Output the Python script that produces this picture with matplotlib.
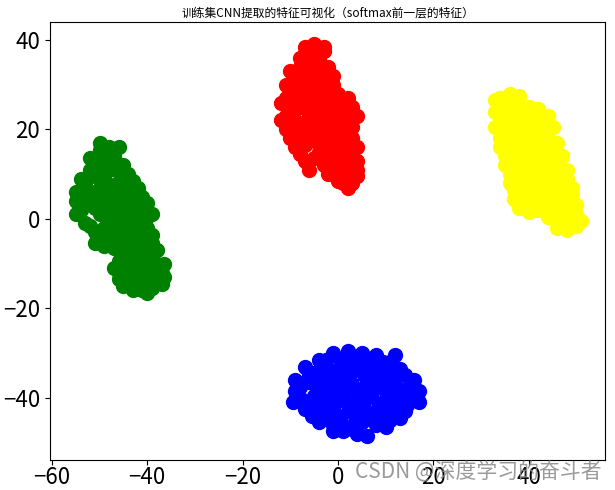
import matplotlib
matplotlib.use("Agg")
import matplotlib.pyplot as plt
import numpy as np

plt.rcParams['font.family'] = ['Noto Sans CJK SC', 'DejaVu Sans']
plt.rcParams['axes.unicode_minus'] = True

title = "训练集CNN提取的特征可视化（softmax前一层的特征）"
watermark = "CSDN @深度学习的奋斗者"
class_colors = ["red", "yellow", "green", "blue"]

# t-SNE 坐标
red_pts = [
    (-7, 37), (-5, 38), (-3, 37.5), (-4, 36), (-6, 35),
    (-10, 33), (-8, 34), (-6, 33), (-4, 33), (-2, 32), (-1, 30), (-9, 31),
    (-11, 30), (-7, 30), (-5, 30), (-3, 29), (0, 28), (-11, 27), (-9, 27),
    (-6, 27), (-4, 26), (-2, 26), (-1, 24),
    (2, 27), (3, 25), (4, 23), (2, 22), (3, 20.5),
    (-11, 23), (-9, 22), (-11, 20), (-8, 19), (-10, 18), (-7, 16.5), (-9, 16),
    (-6, 23), (-4, 22), (-2, 21), (-5, 19), (-3, 18), (0, 19), (-1, 17),
    (-4, 15), (-2, 14), (0, 15), (2, 16), (3, 14), (1, 12), (-1, 12), (-3, 12),
    (0, 10), (2, 10), (3, 8), (1, 8), (4, 11), (2, 7), (-2, 10),
    (-7, 13), (-6, 11),
    (-8, 36), (-6, 36.5), (-4, 34.5), (-2, 34), (-7, 32), (-5, 31.5), (-3, 31),
    (-1, 32), (-10, 29), (-8, 28.5), (-6, 29), (-4, 28), (-2, 28), (0, 26),
    (1, 24), (-8, 25), (-10, 25), (-6, 25), (-4, 24), (-2, 23.5), (0, 22),
    (1, 20), (-7, 21), (-9, 20), (-5, 21), (-3, 20), (-1, 19), (-6, 17.5),
    (-4, 17), (-2, 16), (1, 17), (3, 18), (4, 16), (-5, 13.5), (-3, 14),
    (-1, 14), (1, 14), (3, 12), (0, 8.5), (-1, 11), (2, 9), (4, 9.5), (4, 13),
    (-8, 14.5), (-12, 26), (-12, 22), (-5, 39), (-7, 38.5), (-3, 38.5),
]
yellow_pts = [
    (34, 27), (36, 27.5), (38, 26), (40, 25), (42, 24.5), (44, 23),
    (33, 24), (35, 23.5), (37, 22), (39, 22), (41, 22), (43, 21), (45, 20.5),
    (33, 20.5), (35, 20), (37, 19), (39, 19), (41, 18), (43, 18), (46, 17),
    (34, 16), (36, 16), (38, 15), (40, 15.5), (42, 14), (44, 15), (47, 14),
    (35, 12), (37, 12), (39, 11), (41, 11), (43, 11), (45, 11.5), (48, 11),
    (36, 8), (38, 8), (40, 8.5), (42, 7.5), (44, 7), (46, 8), (49, 7),
    (37, 4.5), (39, 4), (41, 4.5), (43, 3), (45, 4), (47, 3.5), (49, 4),
    (44, 0.5), (46, 0), (48, 0.5), (50, 1), (46, -2), (48, -2.5), (50, -1.5),
    (38, 2.5), (40, 1.5),
    (35, 25.5), (37, 24.5), (39, 24), (41, 23.5), (43, 22.5), (34, 22),
    (36, 21.5), (38, 20.5), (40, 20.5), (42, 20), (44, 19.5), (34, 18),
    (36, 18), (38, 17), (40, 17), (42, 16.5), (44, 17), (45, 15.5), (35, 14),
    (37, 14), (39, 13), (41, 13), (43, 13), (46, 12.5), (36, 10), (38, 10),
    (40, 10), (42, 9.5), (44, 9), (46, 10), (48, 9), (37, 6.5), (39, 6),
    (41, 6), (43, 5.5), (45, 6), (47, 6), (49, 5.5), (42, 2), (44, 2.5),
    (46, 2), (48, 2), (50, 3), (47, -1), (49, 0), (51, -0.5), (34, 25.5),
    (36, 28), (38, 27.5), (33, 26.5),
]
green_pts = [
    (-50, 15.5), (-48, 16), (-47, 14), (-50, 13), (-52, 11), (-54, 9),
    (-51, 9.5), (-48, 11), (-46, 10.5), (-44, 10), (-53, 6), (-55, 4),
    (-50, 7), (-47, 7.5), (-45, 7), (-42, 7), (-54, 2), (-52, 4), (-49, 4.5),
    (-46, 4), (-43, 4), (-40, 3.5), (-53, -1), (-50, 1), (-47, 1.5), (-44, 1),
    (-41, 0.5), (-51, -3), (-49, -2), (-47, -3), (-44, -2), (-42, -1.5),
    (-40, -2), (-51, -5.5), (-49, -6), (-45, -5), (-43, -4.5), (-41, -5),
    (-39, -5.5), (-45, -8), (-43, -7.5), (-41, -8), (-39, -8.5), (-38, -7),
    (-47, -11), (-45, -10.5), (-43, -11), (-41, -10.5), (-39, -11), (-37, -12),
    (-46, -13.5), (-44, -14), (-42, -13), (-40, -14), (-38, -13.5),
    (-41, -16), (-43, -16), (-39, -15.5), (-37, -14.5), (-46, -12),
    (-49, 14.5), (-51, 12), (-49, 12), (-47, 12.5), (-45, 12), (-53, 8),
    (-49, 9), (-45, 9), (-43, 8.5), (-55, 6), (-51, 6), (-48, 6), (-46, 5.5),
    (-44, 5.5), (-41, 5), (-55, 1), (-51, 2.5), (-48, 3), (-45, 2.5),
    (-42, 2.5), (-39, 1), (-52, -1.5), (-48, -0.5), (-46, -1), (-43, 0),
    (-40, 0.5), (-50, -4), (-48, -4), (-46, -3.5), (-43, -3), (-41, -3),
    (-39, -3.5), (-47, -6.5), (-44, -6.5), (-42, -6), (-40, -6.5),
    (-46, -9.5), (-44, -9.5), (-42, -9.5), (-40, -9.5), (-38, -10),
    (-44, -12), (-42, -11.5), (-40, -12), (-38, -12), (-45, -15), (-42, -15),
    (-40, -16.5), (-36.5, -13), (-36.5, -10), (-50, 17), (-46, 16), (-52, 13.5),
]
blue_pts = [
    (-1, -30), (2, -29.5), (5, -30), (8, -30.5), (-4, -31.5), (-7, -33),
    (11, -32), (13, -33.5),
    (-5, -34.5), (-2, -33.5), (1, -33), (4, -33), (7, -33.5), (10, -34.5), (14, -35),
    (-8, -37.5), (-6, -36.5), (-3, -36.5), (0, -36), (3, -37), (6, -36.5),
    (9, -37), (12, -37), (15, -37.5),
    (-8, -40), (-5, -39.5), (-2, -40), (1, -39.5), (4, -40), (7, -39.5),
    (10, -40), (13, -40), (16, -39.5),
    (-7, -42.5), (-4, -43), (-1, -42.5), (2, -43), (5, -42.5), (8, -43),
    (11, -42.5), (14, -43),
    (-4, -45.5), (-1, -46), (2, -46.5), (5, -45.5), (8, -46), (11, -45), (13, -44.5),
    (1, -47.5), (6, -48.5), (3, -47),
    (0.5, -31.5), (3.5, -31.5), (6.5, -31.5), (9.5, -32), (-2.5, -31.5),
    (12, -30.5), (-6, -35), (-3.5, -35), (-0.5, -34.5), (2.5, -34.5),
    (5.5, -35), (8.5, -35), (11.5, -35.5), (16, -36), (-9, -38.5),
    (-4.5, -38), (-1.5, -38), (1.5, -38), (4.5, -38.5), (7.5, -38),
    (10.5, -38.5), (13.5, -38.5), (17, -38.5), (-6.5, -41), (-3.5, -41.5),
    (-0.5, -41), (2.5, -41.5), (5.5, -41), (8.5, -41.5), (11.5, -41),
    (14.5, -41.5), (17, -41), (-5.5, -44), (-2.5, -44.5), (0.5, -44.5),
    (3.5, -44), (6.5, -44.5), (9.5, -44), (12.5, -43), (-1, -47.5), (4, -48),
    (10, -46.5), (-9, -36), (-9.5, -41),
]

fig = plt.figure(figsize=(6.15, 4.9), dpi=100)
ax = fig.add_axes([0.0813, 0.0612, 0.9024, 0.8938])

for pts, c in zip([red_pts, yellow_pts, green_pts, blue_pts], class_colors):
    arr = np.array(pts)
    ax.scatter(arr[:, 0], arr[:, 1], c=c, s=100)

ax.set_xlim(-60.4, 56)
ax.set_ylim(-53.9, 44)
ax.set_xticks([-60, -40, -20, 0, 20, 40])
ax.set_yticks([-40, -20, 0, 20, 40])
ax.tick_params(labelsize=16)
ax.tick_params(axis="x", pad=1)
ax.set_title(title, fontsize=8.5, pad=4)

fig.text(0.979, 0.037, watermark, ha="right", va="center",
         fontsize=15, color="#888888", alpha=0.85)

fig.savefig("out.png", dpi=100)
